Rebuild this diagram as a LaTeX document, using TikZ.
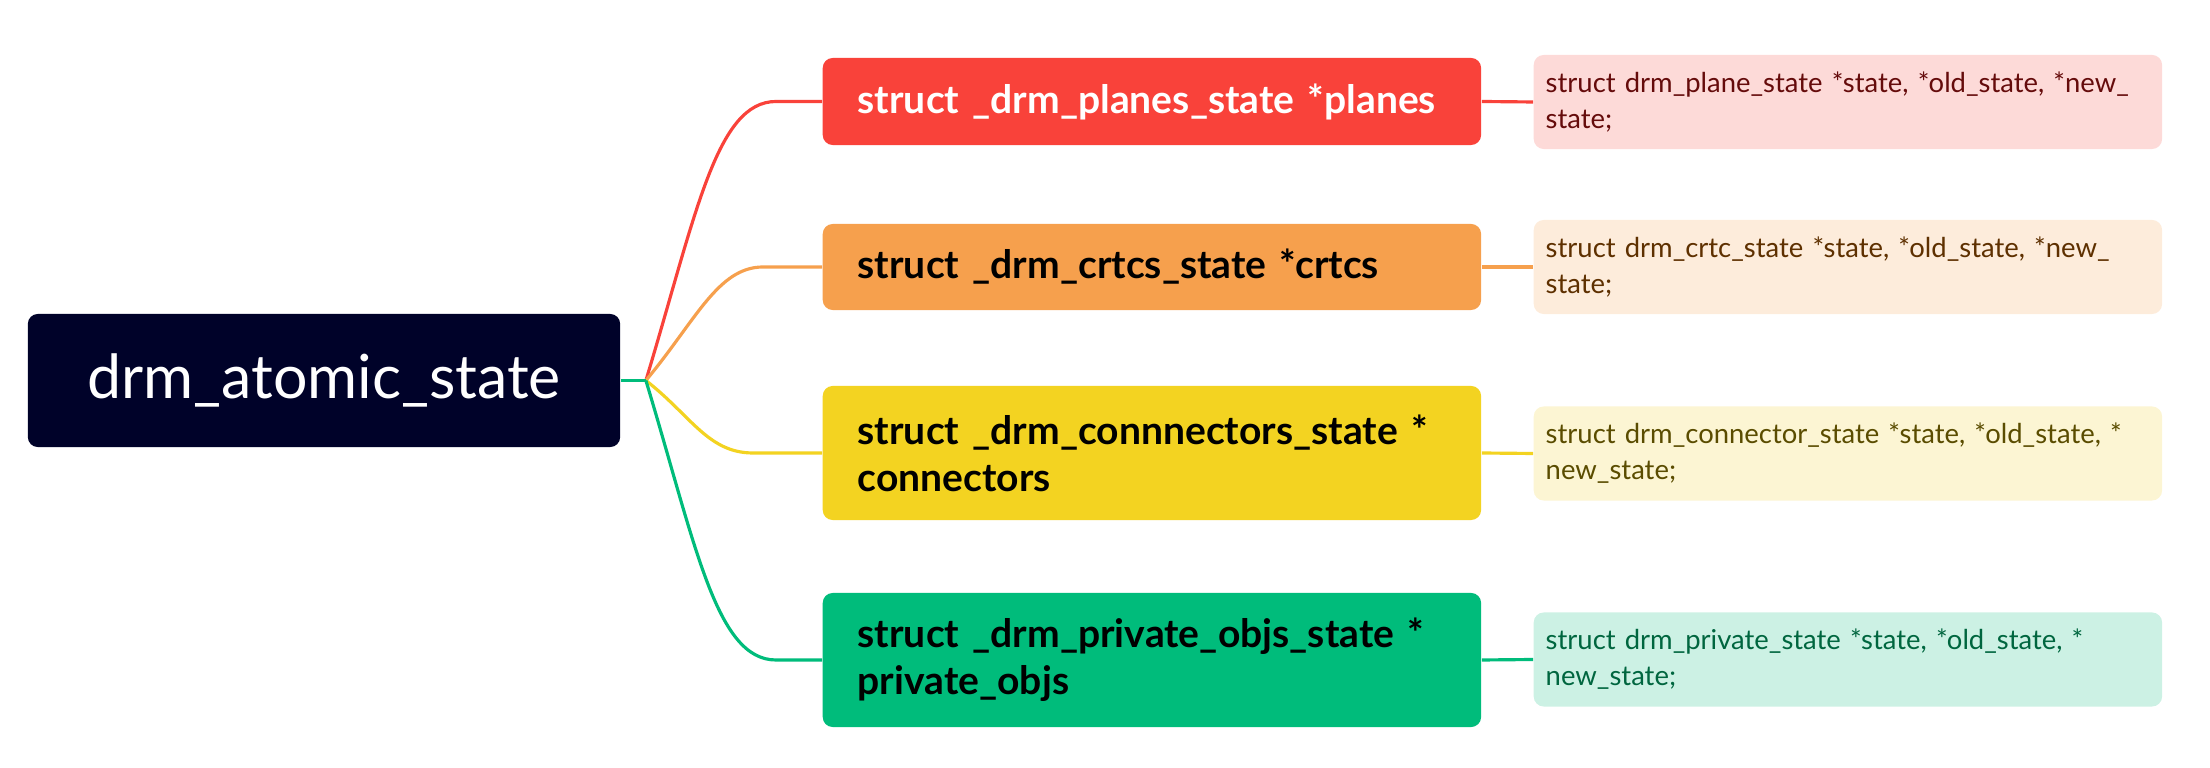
\documentclass[tikz,border=0pt]{standalone}
\usepackage{fontspec}
\setmainfont{Lato}
\usetikzlibrary{calc}
\definecolor{rootc}{HTML}{000229}
\definecolor{redc}{HTML}{F9423A}
\definecolor{orangec}{HTML}{F6A04D}
\definecolor{yellowc}{HTML}{F3D321}
\definecolor{greenc}{HTML}{00BC7B}
\definecolor{redl}{HTML}{FDDAD8}
\definecolor{orangel}{HTML}{FDECDB}
\definecolor{yellowl}{HTML}{FCF5D3}
\definecolor{greenl}{HTML}{CCF1E4}
\definecolor{redt}{HTML}{650B0B}
\definecolor{oranget}{HTML}{5E3000}
\definecolor{yellowt}{HTML}{5A4C00}
\definecolor{greent}{HTML}{00663F}
\begin{document}
\begin{tikzpicture}[x=0.01cm,y=-0.01cm,
  rootbox/.style={fill=rootc, rounded corners=0.1cm, minimum width=5.92cm, minimum height=1.33cm,
    text=white, inner sep=0pt, font=\fontsize{17.3}{20}\selectfont},
  midbox/.style={anchor=west, rounded corners=0.1cm, text width=5.88cm, inner xsep=0.35cm, inner ysep=0pt,
    align=left, font=\bfseries\fontsize{11.1}{13.4}\selectfont},
  notebox/.style={anchor=west, rounded corners=0.1cm, text width=6.04cm, inner xsep=0.12cm, inner ysep=0pt,
    minimum height=0.94cm, align=left, font=\fontsize{7.8}{10.2}\selectfont},
  conn/.style={line width=0.9pt}]
\useasboundingbox (0,0) rectangle (2210,768);
\node[rootbox] (root) at (324,380.5) {drm\_atomic\_state};
\coordinate (J) at ($(root.east)+(25,0)$);

\node[midbox, fill=redc, text=white, minimum height=0.87cm] (m1) at (822,101.5) {struct \_drm\_planes\_state *planes};
\node[midbox, fill=orangec, text=black, minimum height=0.86cm] (m2) at (822,267) {struct \_drm\_crtcs\_state *crtcs};
\node[midbox, fill=yellowc, text=black, minimum height=1.34cm] (m3) at (822,453) {struct \_drm\_connnectors\_state *\\connectors};
\node[midbox, fill=greenc, text=black, minimum height=1.34cm] (m4) at (822,660) {struct \_drm\_private\_objs\_state *\\private\_objs};

\node[notebox, fill=redl, text=redt] (n1) at (1533,102) {struct drm\_plane\_state *state, *old\_state, *new\_\\state;};
\node[notebox, fill=orangel, text=oranget] (n2) at (1533,267) {struct drm\_crtc\_state *state, *old\_state, *new\_\\state;};
\node[notebox, fill=yellowl, text=yellowt] (n3) at (1533,453.5) {struct drm\_connector\_state *state, *old\_state, *\\new\_state;};
\node[notebox, fill=greenl, text=greent] (n4) at (1533,659.5) {struct drm\_private\_state *state, *old\_state, *\\new\_state;};

\coordinate (e1) at ($(m1.west)+(-46,0)$);
\coordinate (e2) at ($(m2.west)+(-59,0)$);
\coordinate (e3) at ($(m3.west)+(-69,0)$);
\coordinate (e4) at ($(m4.west)+(-46,0)$);

\draw[conn, redc] (J) .. controls +(50,-165) and +(-60,0) .. (e1) -- (m1.west);
\draw[conn, orangec] (J) .. controls +(50,-60) and +(-45,0) .. (e2) -- (m2.west);
\draw[conn, yellowc] (J) .. controls +(45,35) and +(-45,0) .. (e3) -- (m3.west);
\draw[conn, greenc] (J) .. controls +(50,165) and +(-60,0) .. (e4) -- (m4.west);
\draw[conn, greenc] (root.east) -- (J);

\draw[conn, redc] (m1.east) -- (n1.west);
\draw[conn, orangec] (m2.east) -- (n2.west);
\draw[conn, yellowc] (m3.east) -- (n3.west);
\draw[conn, greenc] (m4.east) -- (n4.west);
\end{tikzpicture}
\end{document}
